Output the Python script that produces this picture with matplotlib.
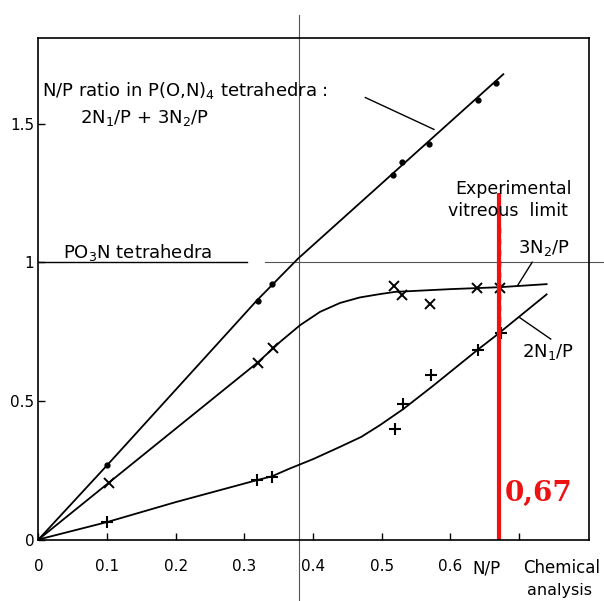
import matplotlib
matplotlib.use("Agg")
from matplotlib import pyplot as plt

# =======================================================
#   Values
# =======================================================
# N/P ratio in P(O,N)4 tetrahedra: 2N1/P + 3N2/P  (dots)
total_x = [0.100, 0.319, 0.340, 0.516, 0.529, 0.569, 0.640, 0.667]
total_y = [0.268, 0.860, 0.923, 1.314, 1.362, 1.428, 1.584, 1.647]
total_curve_x = [0.0, 0.100, 0.318, 0.378, 0.677]
total_curve_y = [0.0, 0.268, 0.862, 1.013, 1.678]

# 3N2/P  (x markers)
n2_x = [0.102, 0.319, 0.342, 0.518, 0.530, 0.570, 0.638, 0.672]
n2_y = [0.204, 0.638, 0.691, 0.913, 0.881, 0.849, 0.907, 0.907]
n2_curve_x = [0.0, 0.102, 0.319, 0.342, 0.352, 0.381, 0.410, 0.439, 0.468, 0.497, 0.519, 0.600, 0.672, 0.740]
n2_curve_y = [0.0, 0.204, 0.638, 0.690, 0.713, 0.773, 0.821, 0.853, 0.873, 0.885, 0.893, 0.903, 0.910, 0.921]

# 2N1/P  (+ markers)
n1_x = [0.100, 0.318, 0.340, 0.519, 0.531, 0.571, 0.640, 0.673]
n1_y = [0.063, 0.214, 0.226, 0.400, 0.487, 0.592, 0.685, 0.743]
n1_curve_x = [0.0, 0.100, 0.200, 0.318, 0.340, 0.366, 0.400, 0.439, 0.470, 0.497, 0.531, 0.575, 0.640, 0.665, 0.740]
n1_curve_y = [0.0, 0.063, 0.135, 0.214, 0.228, 0.256, 0.290, 0.334, 0.370, 0.412, 0.470, 0.555, 0.685, 0.733, 0.884]

x_ticks = [0, 0.1, 0.2, 0.3, 0.4, 0.5, 0.6, 0.7]
x_tick_labels = ["0", "0.1", "0.2", "0.3", "0.4", "0.5", "0.6", ""]
y_ticks = [0, 0.5, 1, 1.5]
y_tick_labels = ["0", "0.5", "1", "1.5"]

vitreous_limit = 0.67
# =======================================================

fig = plt.figure(figsize=(6.04, 6.01), dpi=100)
ax = fig.add_axes([0.0637, 0.1023, 0.9114, 0.8344])
ax.set_xlim(0, 0.8017)
ax.set_ylim(0, 1.8085)

for s in ax.spines.values():
    s.set_linewidth(1.2)

ax.set_xticks(x_ticks)
ax.set_xticklabels(x_tick_labels)
ax.set_yticks(y_ticks)
ax.set_yticklabels(y_tick_labels)
ax.tick_params(axis="x", direction="in", length=5, width=1, pad=14, labelsize=11)
ax.tick_params(axis="y", direction="in", length=5, width=1, pad=3, labelsize=11)

# reference lines (y = 1 and x ~ 0.38)
ax.plot([0, 0.304], [1, 1], color="black", lw=1)
ax.plot([0.33, 0.824], [1, 1], color="#555555", lw=0.8, clip_on=False)
ax.plot([0.379, 0.379], [-0.222, 1.89], color="#555555", lw=0.8, clip_on=False)

# curves
ax.plot(total_curve_x, total_curve_y, color="black", lw=1.3)
ax.plot(n2_curve_x, n2_curve_y, color="black", lw=1.3)
ax.plot(n1_curve_x, n1_curve_y, color="black", lw=1.3)

# data points
ax.plot(total_x, total_y, "o", color="black", ms=3.5, ls="none")
ax.plot(n2_x, n2_y, "x", color="black", ms=7, mew=1.4, ls="none")
ax.plot(n1_x, n1_y, "+", color="black", ms=8, mew=1.5, ls="none")

# experimental vitreous limit
ax.plot([0.672, 0.672], [0.745, 1.14], color="black", lw=1, ls=(0, (4, 4)))
ax.plot([vitreous_limit, vitreous_limit], [0, 1.25], color="#ee1111", lw=3, solid_capstyle="butt")

# annotations
ax.text(0.005, 1.62, "N/P ratio in P(O,N)$_4$ tetrahedra :", fontsize=13, va="center")
ax.text(0.060, 1.519, "2N$_1$/P + 3N$_2$/P", fontsize=13, va="center")
ax.plot([0.476, 0.576], [1.594, 1.479], color="black", lw=1)

ax.text(0.036, 1.035, "PO$_3$N tetrahedra", fontsize=13, va="center")

ax.text(0.607, 1.263, "Experimental", fontsize=12.5, va="center")
ax.text(0.596, 1.184, "vitreous  limit", fontsize=12.5, va="center")

ax.text(0.698, 1.05, "3N$_2$/P", fontsize=13, va="center")
ax.plot([0.719, 0.698], [1.0, 0.917], color="black", lw=1)
ax.text(0.704, 0.675, "2N$_1$/P", fontsize=13, va="center")
ax.plot([0.701, 0.746], [0.80, 0.723], color="black", lw=1)

ax.text(0.679, 0.167, "0,67", fontsize=20, fontweight="bold", family="DejaVu Serif",
        color="#ee1111", va="center")

ax.text(0.652, -0.103, "N/P", fontsize=12, va="center", ha="center", clip_on=False)
ax.text(0.706, -0.103, "Chemical", fontsize=12, va="center", clip_on=False)
ax.text(0.712, -0.183, "analysis", fontsize=11.5, va="center", clip_on=False)

plt.savefig("out.png", dpi=100)
plt.close(fig)
